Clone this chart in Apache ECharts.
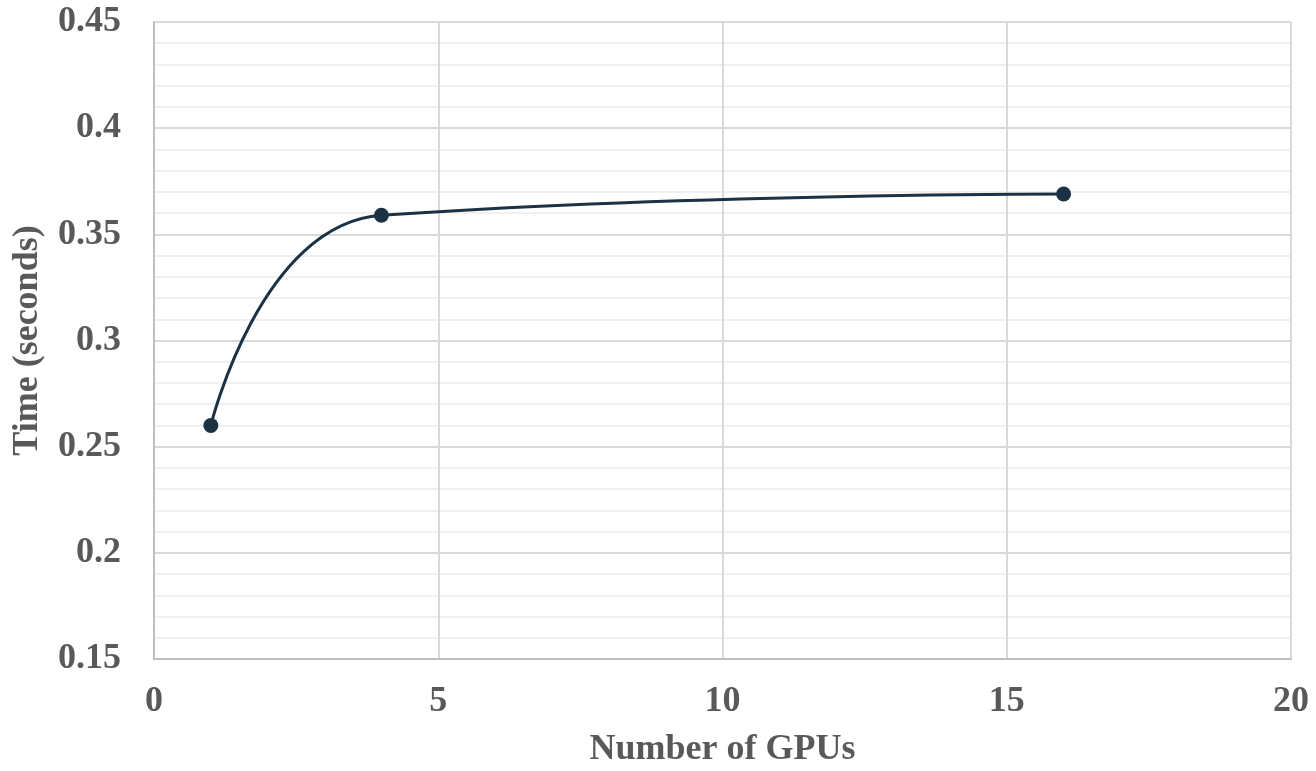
<!DOCTYPE html>
<html><head><meta charset="utf-8">
<script src="https://cdn.jsdelivr.net/npm/echarts@6/dist/echarts.min.js"></script>
<style>html,body{margin:0;padding:0;background:#fff}#c{width:1316px;height:771px}</style>
</head><body><div id="c"></div>
<script>
const gpus = [1, 4, 16];
const times = [0.26, 0.359, 0.369];
const xTicks = [0, 5, 10, 15, 20];
const yTicks = [0.15, 0.2, 0.25, 0.3, 0.35, 0.4, 0.45];

const font = '"Liberation Serif", "Times New Roman", serif';
const chart = echarts.init(document.getElementById('c'));
chart.setOption({
  animation: false,
  grid: {left: 154, right: 25, top: 22, bottom: 112, containLabel: false, outerBoundsMode: 'none'},
  xAxis: {
    type: 'value', min: 0, max: 20, interval: 5,
    name: 'Number of GPUs', nameLocation: 'middle', nameGap: 73,
    nameTextStyle: {fontFamily: font, fontWeight: 'bold', fontSize: 36, color: '#595959'},
    axisLine: {show: true, lineStyle: {color: '#bfbfbf', width: 2}},
    axisTick: {show: false},
    axisLabel: {fontFamily: font, fontWeight: 'bold', fontSize: 36, color: '#595959', margin: 25,
      formatter: v => xTicks.includes(v) ? String(v) : ''},
    splitLine: {show: true, lineStyle: {color: '#d9d9d9', width: 2}}
  },
  yAxis: {
    type: 'value', min: 0.15, max: 0.45, interval: 0.05,
    name: 'Time (seconds)', nameLocation: 'middle', nameGap: 108, nameRotate: 90,
    nameTextStyle: {fontFamily: font, fontWeight: 'bold', fontSize: 36, color: '#595959'},
    axisLine: {show: true, lineStyle: {color: '#bfbfbf', width: 2}},
    axisTick: {show: false},
    axisLabel: {fontFamily: font, fontWeight: 'bold', fontSize: 36, color: '#595959', margin: 33,
      formatter: v => { const t = yTicks.find(a => Math.abs(a - v) < 1e-9); return t === undefined ? '' : String(t); }},
    splitLine: {show: true, lineStyle: {color: '#d9d9d9', width: 2}},
    minorTick: {show: false, splitNumber: 5},
    minorSplitLine: {show: true, lineStyle: {color: '#f0f0f0', width: 2}}
  },
  series: [{
    type: 'line',
    data: gpus.map((g, i) => [g, times[i]]),
    smooth: 0.5,
    symbol: 'circle', symbolSize: 15,
    lineStyle: {color: '#1b3245', width: 3},
    itemStyle: {color: '#1b3245'}
  }]
});
</script></body></html>
